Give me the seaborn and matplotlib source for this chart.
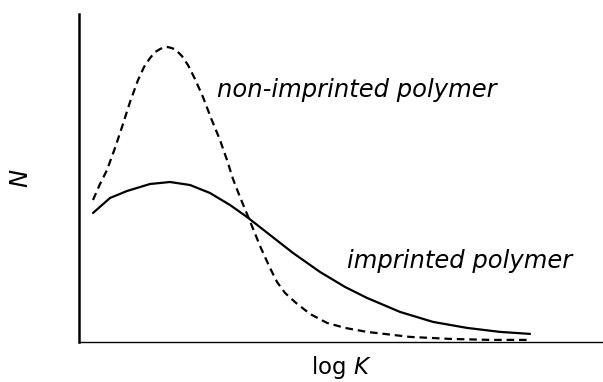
import matplotlib
matplotlib.use("Agg")
import matplotlib.pyplot as plt
import seaborn as sns
import pandas as pd

# values (arbitrary units)
non_imp_logk = [14, 21, 28, 36, 43, 51, 59, 65, 71, 76, 81, 85, 89, 93, 97, 103, 109, 116,
                124, 132, 141, 148, 154, 161, 168, 175, 181, 191, 198, 206, 217, 231, 248,
                266, 288, 331, 371, 411, 451]
non_imp_n = [142, 158, 172, 194, 215, 240, 262, 275, 284, 290, 293, 295, 295, 294, 292, 286,
             277, 263, 245, 224, 202, 182, 163, 145, 128, 111, 96, 74, 60, 49, 39, 28, 19,
             14, 10, 5, 3, 2, 2]

imp_logk = [14, 31, 48, 71, 91, 111, 131, 151, 168, 191, 214, 241, 266, 288, 321, 354, 388, 421, 451]
imp_n = [129, 144, 151, 158, 160, 157, 149, 137, 125, 107, 89, 70, 55, 44, 30, 20, 14, 10, 8]

label_non_imp = "non-imprinted polymer"
label_imp = "imprinted polymer"

sns.set_style("white")
plt.rcParams["font.family"] = ["DejaVu Sans"]
plt.rcParams["text.color"] = "black"
plt.rcParams["axes.labelcolor"] = "black"

fig = plt.figure(figsize=(6.03, 3.82), dpi=100)
ax = fig.add_axes([0.131, 0.105, 0.869, 0.858])

df_non = pd.DataFrame({"logk": non_imp_logk, "n": non_imp_n})
df_imp = pd.DataFrame({"logk": imp_logk, "n": imp_n})

sns.lineplot(data=df_non, x="logk", y="n", ax=ax, color="black", lw=1.6,
             sort=False, estimator=None)
ax.lines[-1].set_dashes((3.4, 2.2))
sns.lineplot(data=df_imp, x="logk", y="n", ax=ax, color="black", lw=1.6,
             sort=False, estimator=None)

ax.set_xlim(0, 524)
ax.set_ylim(0, 328)
ax.set_xticks([])
ax.set_yticks([])
sns.despine(ax=ax)
ax.spines["left"].set_linewidth(1.8)
ax.spines["bottom"].set_linewidth(1.0)
ax.spines["left"].set_color("black")
ax.spines["bottom"].set_color("black")

ax.text(138, 245, label_non_imp, fontsize=17.5, style="italic", va="baseline", ha="left", color="black")
ax.text(268, 74, label_imp, fontsize=17.5, style="italic", va="baseline", ha="left", color="black")

ax.set_xlabel("log $\\it{K}$", fontsize=16.5, labelpad=9)
ax.set_ylabel("$\\it{N}$", fontsize=17.5, labelpad=33)

fig.savefig("out.png", dpi=100)
